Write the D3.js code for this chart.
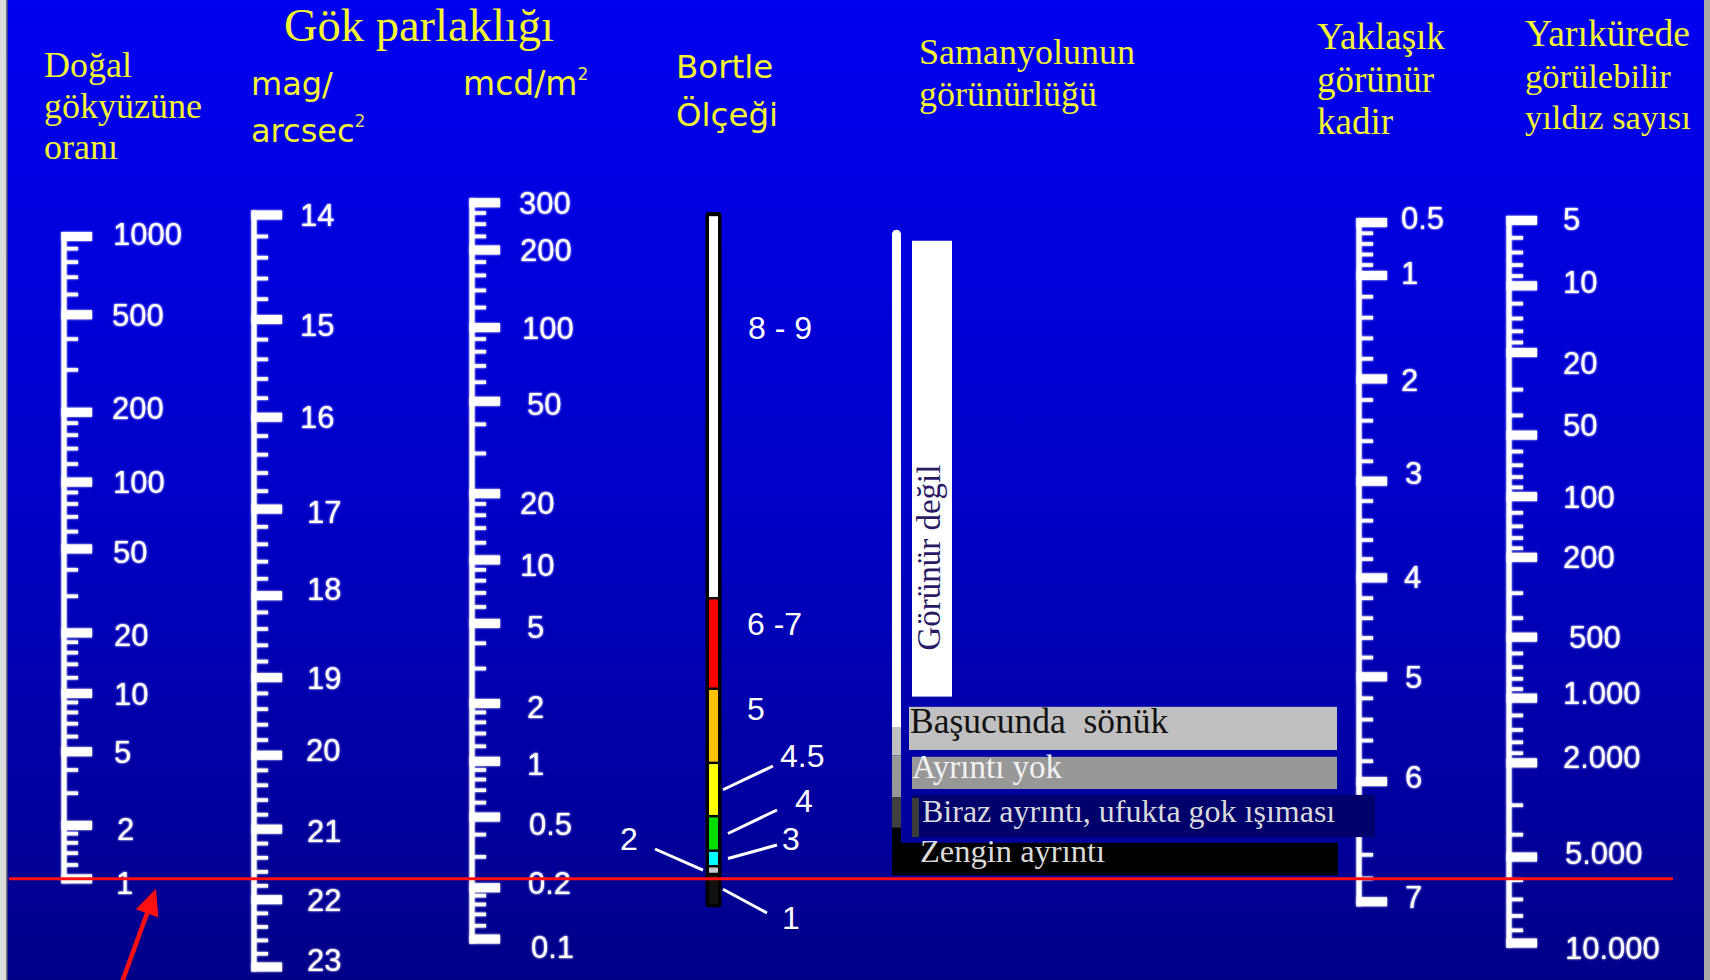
<!DOCTYPE html>
<html><head><meta charset="utf-8">
<script src="https://cdn.jsdelivr.net/npm/d3@7"></script>
<style>html,body{margin:0;padding:0;background:#000080;overflow:hidden} text{white-space:pre}</style>
</head><body><svg id="c" width="1710" height="980"></svg>
<script>
// ---------------- DATA ----------------
const ratioTicks = [1000, 500, 200, 100, 50, 20, 10, 5, 2, 1];
const ratioNaturalSkyMag = 21.7;           // mag/arcsec² of ratio 1 (natural sky)
const magTicks = [14, 15, 16, 17, 18, 19, 20, 21, 22, 23];
const mcdTicks = [300, 200, 100, 50, 20, 10, 5, 2, 1, 0.5, 0.2, 0.1];
const mcdZeroPoint = 20.08;                 // mag = 20.08 - 2.5 log10(mcd/m²)
const nelmTicks = [0.5, 1, 2, 3, 4, 5, 6, 7];
const nelmSkyMag = [14.07, 14.57, 15.60, 16.69, 17.79, 18.99, 20.35, 22.03];
const starTicks = [5, 10, 20, 50, 100, 200, 500, 1000, 2000, 5000, 10000];
const starLabels = ["5", "10", "20", "50", "100", "200", "500", "1.000", "2.000", "5.000", "10.000"];
const starSkyMag = [14.05, 14.67, 15.33, 16.19, 16.86, 17.55, 18.50, 19.26, 20.10, 21.39, 22.64];

const bortleClasses = ["8 - 9", "6 -7", "5", "4.5", "4", "3", "2", "1"];
const bortleTopMag = [14.0, 18.03, 19.14, 20.10, 20.82, 21.30, 21.52, 21.63];
const bortleBottomMag = [18.03, 19.14, 20.10, 20.82, 21.30, 21.52, 21.63, 22.08];
const bortleColors = ["#ffffff", "#ff0000", "#ffc000", "#ffff00", "#00dd00", "#00ffff", "#c8c8c8", "#111111"];

const mwLabels = ["Görünür değil", "Başucunda  sönük", "Ayrıntı yok", "Biraz ayrıntı, ufukta gok ışıması", "Zengin ayrıntı"];
const mwTopMag = [14.24, 19.37, 20.02, 20.53, 21.19];
const mwBottomMag = [19.24, 19.93, 20.45, 21.11, 21.65];
const mwBarTopMag = [14.17, 19.63, 20.00, 20.56, 20.98];
const mwBarBottomMag = [19.63, 20.00, 20.56, 20.98, 21.65];

// ---------------- SCALES ----------------
const magScale = d3.scaleLog().domain([14, 23]).range([215, 967]);
const ratioToMag = r => ratioNaturalSkyMag - 2.5 * Math.log10(r);
const mcdToMag = L => mcdZeroPoint - 2.5 * Math.log10(L);
const nelmToMag = d3.scaleLinear().domain(nelmTicks).range(nelmSkyMag);
const starToMag = d3.scaleLinear().domain(starTicks.map(Math.log10)).range(starSkyMag);
const yRatio = v => magScale(ratioToMag(v));
const yMag = v => magScale(v);
const yMcd = v => magScale(mcdToMag(v));
const yNelm = v => magScale(nelmToMag(v));
const yStar = v => magScale(starToMag(Math.log10(v)));

function logMinors(lo, hi, extra) {
  const out = [];
  for (let d = 0.01; d <= 100000; d *= 10) {
    [1.2, 1.4, 1.6, 1.8, 3, 4, 6, 7, 8, 9].forEach(k => {
      const v = +(k * d).toPrecision(6);
      if (v > lo && v < hi) out.push(v);
    });
  }
  return out.concat(extra || []);
}
function stepMinors(ticks, step) {
  const out = [];
  for (let i = 0; i < ticks.length - 1; i++) {
    const a = Math.min(ticks[i], ticks[i + 1]), b = Math.max(ticks[i], ticks[i + 1]);
    const s = (b - a) < 1 ? 0.1 : step;
    for (let v = a + s; v < b - 1e-9; v += s) out.push(+v.toFixed(3));
  }
  return out;
}

// ---------------- SVG ----------------
const svg = d3.select("#c");
const W = 1710, H = 980;
const defs = svg.append("defs");
const grad = defs.append("linearGradient").attr("id", "bg").attr("x1", 0).attr("y1", 0).attr("x2", 0).attr("y2", 1);
grad.append("stop").attr("offset", "0%").attr("stop-color", "#0000f2");
grad.append("stop").attr("offset", "50%").attr("stop-color", "#0000c8");
grad.append("stop").attr("offset", "100%").attr("stop-color", "#000088");
const glow = defs.append("filter").attr("id", "glow").attr("x", "-30%").attr("y", "-5%").attr("width", "160%").attr("height", "110%");
glow.append("feGaussianBlur").attr("stdDeviation", 1.2).attr("result", "b");
const gm = glow.append("feMerge");
gm.append("feMergeNode").attr("in", "b");
gm.append("feMergeNode").attr("in", "SourceGraphic");

svg.append("rect").attr("width", W).attr("height", H).attr("fill", "url(#bg)");
svg.append("rect").attr("x", 0).attr("y", 0).attr("width", 6).attr("height", H).attr("fill", "#dcdcdc");
svg.append("rect").attr("x", 6).attr("y", 0).attr("width", 1.5).attr("height", H).attr("fill", "#707070");
svg.append("rect").attr("x", 1704).attr("y", 0).attr("width", 6).attr("height", H).attr("fill", "#a8a8a8");

const SANS = "'Liberation Sans', Arial, sans-serif";
const SERIF = "'Liberation Serif', 'Times New Roman', serif";
const VERD = "'DejaVu Sans', Verdana, sans-serif";
const YEL = "#f4f430";

// ---------------- TITLES ----------------
function title(lines, x, ys, sizes, font) {
  const t = svg.append("text").attr("fill", YEL).attr("font-family", font);
  lines.forEach((l, i) => t.append("tspan").attr("x", x).attr("y", ys[i])
    .attr("font-size", Array.isArray(sizes) ? sizes[i] : sizes).text(l));
  return t;
}
title(["Doğal", "gökyüzüne", "oranı"], 44, [77, 118, 159], 36, SERIF);
title(["Gök parlaklığı"], 284, [41], 46.5, SERIF);
const t1 = title(["mag/", "arcsec"], 251, [95, 142], 32, VERD);
t1.append("tspan").attr("dy", -15).attr("font-size", 17).attr("fill", "#d8d860").text("2");
const t2 = title(["mcd/m"], 463, [95], 33, VERD);
t2.append("tspan").attr("dy", -15).attr("font-size", 17).attr("fill", "#e8e860").text("2");
title(["Bortle", "Ölçeği"], 676, [78, 126], 32.5, VERD);
title(["Samanyolunun", "görünürlüğü"], 919, [64, 106], 36, SERIF);
title(["Yaklaşık", "görünür", "kadir"], 1317, [49, 92, 134], 37, SERIF);
title(["Yarıkürede", "görülebilir", "yıldız sayısı"], 1525, [46, 88, 129], [37.5, 34.5, 34.5], SERIF);

// ---------------- AXES ----------------
function drawAxis(x, majors, minors, labelX) {
  const g = svg.append("g").attr("filter", "url(#glow)");
  const ys = majors.map(d => d.y);
  g.append("line").attr("x1", x).attr("x2", x)
    .attr("y1", d3.min(ys) - 4.5).attr("y2", d3.max(ys) + 4.5)
    .attr("stroke", "#fff").attr("stroke-width", 5);
  g.selectAll("line.mn").data(minors).join("line").attr("class", "mn")
    .attr("x1", x).attr("x2", x + 14).attr("y1", d => d).attr("y2", d => d)
    .attr("stroke", "#fff").attr("stroke-width", 3.5);
  g.selectAll("line.mj").data(majors).join("line").attr("class", "mj")
    .attr("x1", x - 2.5).attr("x2", x + 28).attr("y1", d => d.y).attr("y2", d => d.y)
    .attr("stroke", "#fff").attr("stroke-width", 9);
  g.selectAll("text").data(majors).join("text")
    .attr("x", d => labelX + (d.dx || 0)).attr("y", d => d.y + (d.dy || 0)).attr("dy", "0.36em")
    .attr("fill", "#fff").attr("font-family", SANS).attr("font-size", 31)
    .text(d => d.label);
}
// label nudges (layout only) to follow the reference's hand placement
const ratioLabelDy = [-3, 0, -4, 0, 3, 2, 0, 0, 3, 4];
const ratioLabelDx = [0, -1, -1, 0, 0, 1, 1, 1, 4, 3];
const magLabelDy = [0, 5, 0, 3, -7, 0, -5, 2, 0, -7];
const magLabelDx = [-3, -3, -3, 4, 4, 4, 3, 4, 4, 4];
const mcdLabelDy = [0, 0, 0, 3, 9, 5, 3, 3, 3, 7, -5, 8];
const mcdLabelDx = [-4, -3, -1, 4, -3, -3, 4, 4, 4, 6, 5, 8];
const nelmLabelDy = [-5, -3, 1, -8, -1, 0, -5, -5];
const nelmLabelDx = [0, 0, 0, 4, 3, 4, 4, 4];
const starLabelDy = [-2, -4, 10, -10, 0, 0, 0, -5, -6, -4, 5];
const starLabelDx = [0, 0, 0, 0, 0, 0, 6, 0, 0, 2, 2];

drawAxis(64, ratioTicks.map((v, i) => ({ y: yRatio(v), label: String(v), dy: ratioLabelDy[i], dx: ratioLabelDx[i] })),
  logMinors(1, 1000).map(yRatio), 113);
drawAxis(254, magTicks.map((v, i) => ({ y: yMag(v), label: String(v), dy: magLabelDy[i], dx: magLabelDx[i] })),
  stepMinors(magTicks, 0.2).map(yMag), 303);
drawAxis(472, mcdTicks.map((v, i) => ({ y: yMcd(v), label: String(v), dy: mcdLabelDy[i], dx: mcdLabelDx[i] })),
  logMinors(0.1, 200, [225, 250, 275]).map(yMcd), 523);
drawAxis(1359, nelmTicks.map((v, i) => ({ y: yNelm(v), label: String(v), dy: nelmLabelDy[i], dx: nelmLabelDx[i] })),
  stepMinors(nelmTicks, 0.2).map(yNelm), 1401);
drawAxis(1509, starTicks.map((v, i) => ({ y: yStar(v), label: starLabels[i], dy: starLabelDy[i], dx: starLabelDx[i] })),
  logMinors(5, 10000).map(yStar), 1563);

// ---------------- BORTLE BAR ----------------
const bortle = bortleClasses.map((c, i) => ({ c, top: bortleTopMag[i], bot: bortleBottomMag[i], col: bortleColors[i] }));
const bg = svg.append("g");
bg.append("rect").attr("x", 705.5).attr("width", 16)
  .attr("y", magScale(bortleTopMag[0]) - 3).attr("height", magScale(bortleBottomMag[7]) - magScale(bortleTopMag[0]) + 5)
  .attr("rx", 3).attr("fill", "#000");
bg.selectAll("rect.seg").data(bortle).join("rect").attr("class", "seg")
  .attr("x", 709).attr("width", 9)
  .attr("y", d => magScale(d.top) + 1.2).attr("height", d => Math.max(2, magScale(d.bot) - magScale(d.top) - 2.4))
  .attr("fill", d => d.col);

const bortleLabelLayout = [
  { x: 748, y: 327 }, { x: 747, y: 623 }, { x: 747, y: 708 }, { x: 780, y: 755 },
  { x: 795, y: 800 }, { x: 782, y: 838 }, { x: 620, y: 838 }, { x: 782, y: 917 }
];
svg.append("g").selectAll("text").data(bortle).join("text")
  .attr("x", (d, i) => bortleLabelLayout[i].x).attr("y", (d, i) => bortleLabelLayout[i].y).attr("dy", "0.36em")
  .attr("fill", "#fff").attr("font-family", SANS).attr("font-size", 32).text(d => d.c);

const leaders = [
  { i: 3, x1: 723, x2: 773, y2: 766 },
  { i: 4, x1: 728, x2: 777, y2: 810 },
  { i: 5, x1: 728, x2: 777, y2: 845 },
  { i: 6, x1: 703, x2: 655, y2: 849 },
  { i: 7, x1: 723, x2: 767, y2: 913 }
];
svg.append("g").selectAll("line").data(leaders).join("line")
  .attr("x1", d => d.x1).attr("x2", d => d.x2)
  .attr("y1", d => d.i === 7 ? magScale(21.85) : magScale((bortleTopMag[d.i] + bortleBottomMag[d.i]) / 2))
  .attr("y2", d => d.y2).attr("stroke", "#fff").attr("stroke-width", 3);

// ---------------- MILKY WAY ----------------
const mwFill = ["#ffffff", "#c0c0c0", "#989898", "#00006c", "#000000"];
const mwBarFill = ["#ffffff", "#c0c0c0", "#989898", "#404040", "#000000"];
const mwText = ["#2a1a66", "#111111", "#f2f2f2", "#dadada", "#dadada"];
const mwLayout = [
  { x0: 912, x1: 952 }, { x0: 909, x1: 1337, tx: 910, size: 35.5, off: 17 },
  { x0: 912, x1: 1337, tx: 912, size: 33, off: 11 }, { x0: 912, x1: 1375, tx: 922, size: 32, off: 15 },
  { x0: 901, x1: 1338, tx: 920, size: 32.5, off: 13 }
];
const mw = mwLabels.map((l, i) => ({ l, top: mwTopMag[i], bot: mwBottomMag[i], bt: mwBarTopMag[i], bb: mwBarBottomMag[i], i }));
const mg = svg.append("g");
mg.selectAll("rect.bar").data(mw).join("rect").attr("class", "bar")
  .attr("x", 892).attr("width", 9)
  .attr("y", d => magScale(d.bt)).attr("height", d => magScale(d.bb) - magScale(d.bt))
  .attr("fill", d => mwBarFill[d.i]);
mg.append("circle").attr("cx", 896.5).attr("cy", magScale(mwBarTopMag[0]) + 1).attr("r", 4.5).attr("fill", "#fff");
mg.selectAll("rect.box").data(mw).join("rect").attr("class", "box")
  .attr("x", d => mwLayout[d.i].x0).attr("width", d => mwLayout[d.i].x1 - mwLayout[d.i].x0)
  .attr("y", d => magScale(d.top)).attr("height", d => magScale(d.bot) - magScale(d.top))
  .attr("fill", d => mwFill[d.i]);
// dark grey edge on the left of the navy row
mg.append("rect").attr("x", 912).attr("width", 7)
  .attr("y", magScale(mwTopMag[3]) + 3).attr("height", magScale(mwBottomMag[3]) - magScale(mwTopMag[3]) - 3)
  .attr("fill", "#3c3c3c");
mg.selectAll("text.row").data(mw.slice(1)).join("text").attr("class", "row")
  .attr("x", d => mwLayout[d.i].tx).attr("y", d => magScale(d.bot) - mwLayout[d.i].off)
  .attr("fill", d => mwText[d.i]).attr("font-family", SERIF).attr("font-size", d => mwLayout[d.i].size)
  .text(d => d.l);
mg.append("text").attr("transform", `translate(940,${magScale(mwBottomMag[0]) - 46}) rotate(-90)`)
  .attr("fill", mwText[0]).attr("font-family", SERIF).attr("font-size", 33).text(mwLabels[0]);

// ---------------- RED LINE + ARROW ----------------
const yNat = yRatio(1);
svg.append("line").attr("x1", 9).attr("x2", 1673).attr("y1", yNat).attr("y2", yNat)
  .attr("stroke", "#ff1010").attr("stroke-width", 3);
const tip = [156, yNat + 10], tail = [121, 985];
const dx = tip[0] - tail[0], dy = tip[1] - tail[1], len = Math.hypot(dx, dy);
const ux = dx / len, uy = dy / len, px = -uy, py = ux;
const hb = [tip[0] - 26 * ux, tip[1] - 26 * uy];
svg.append("line").attr("x1", tail[0]).attr("y1", tail[1]).attr("x2", hb[0]).attr("y2", hb[1])
  .attr("stroke", "#ff1010").attr("stroke-width", 4.5);
svg.append("path").attr("fill", "#ff1010")
  .attr("d", `M${tip[0]},${tip[1]}L${hb[0] + 12 * px},${hb[1] + 12 * py}L${hb[0] - 12 * px},${hb[1] - 12 * py}Z`);
</script></body></html>
